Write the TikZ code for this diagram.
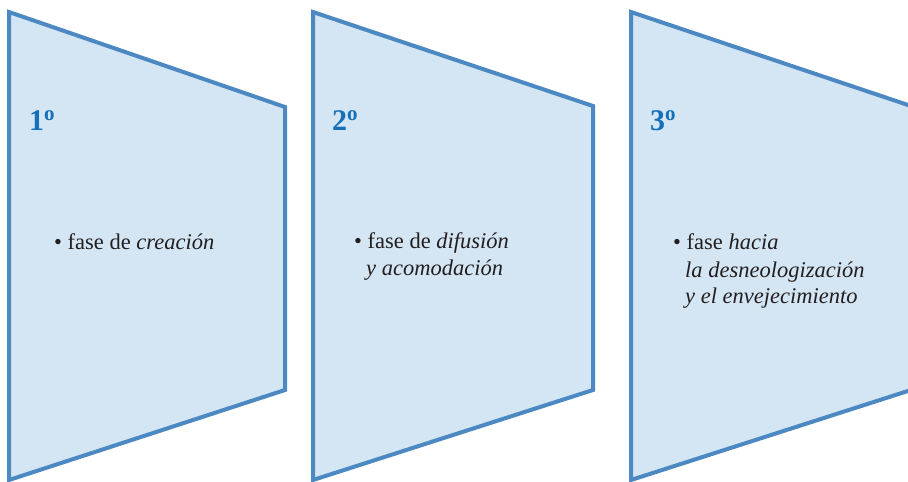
\documentclass[tikz,border=0pt]{standalone}
\usepackage{fontspec}
\setmainfont{Liberation Serif}
\usepackage{tikz}
\usetikzlibrary{positioning}

\definecolor{edgeblue}{RGB}{76,137,195}
\definecolor{paneblue}{RGB}{212,230,243}
\definecolor{numblue}{RGB}{22,112,183}
\definecolor{inkgray}{RGB}{35,31,32}

\begin{document}
\begin{tikzpicture}[x=1pt,y=-1pt,
		pane/.style={fill=paneblue, draw=edgeblue, line width=4pt, line join=miter},
		phase/.style={anchor=base west, inner sep=0pt, text=numblue, font=\fontsize{30}{32}\selectfont\bfseries},
		txt/.style={anchor=base west, inner sep=0pt, text=inkgray, font=\fontsize{22.5}{27}\selectfont}]
		\useasboundingbox (0,0) rectangle (908,482);
		\clip (0,0) rectangle (908,482);
		% the three panes, narrowing to the right
		\draw[pane] (9,12) -- (285,107) -- (285,390) -- (9,480) -- cycle;
		\draw[pane] (313,12) -- (593,106) -- (593,390) -- (313,480) -- cycle;
		\draw[pane] (631,12) -- (911,106) -- (911,390) -- (631,480) -- cycle;
		% numbers
		\node[phase] (n1) at (29,130) {1\textsuperscript{o}};
		\node[phase] (n2) at (332,130) {2\textsuperscript{o}};
		\node[phase] (n3) at (650,130) {3\textsuperscript{o}};
		% phase texts
		\node[txt] (f1) at (54,249) {\textbullet\ fase de \textit{creación}};
		\node[txt] (f2a) at (354,248) {\textbullet\ fase de \textit{difusión}};
		\node[txt] (f2b) at (366,275) {\textit{y acomodación}};
		\node[txt] (f3a) at (673,249) {\textbullet\ fase \textit{hacia}};
		\node[txt] (f3b) at (685,277) {\textit{la desneologización}};
		\node[txt] (f3c) at (685,303) {\textit{y el envejecimiento}};
\end{tikzpicture}
\end{document}
